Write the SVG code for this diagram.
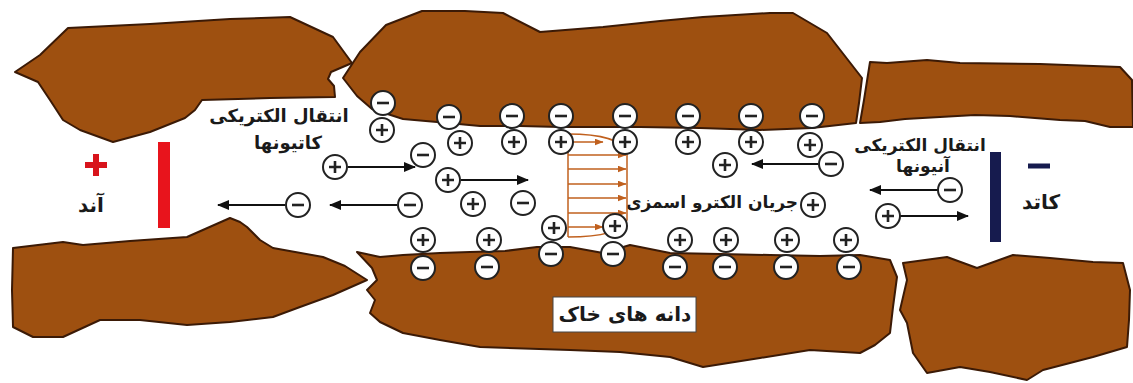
<svg xmlns="http://www.w3.org/2000/svg" xmlns:xlink="http://www.w3.org/1999/xlink" width="1133" height="383" viewBox="0 0 1133 383">
  <style>
    .grain { fill: #9e5010; stroke: #3b1a06; stroke-width: 2; stroke-linejoin: round; }
    .ion-ring { fill: #ffffff; stroke: #222222; stroke-width: 2; }
    .ion-sign { stroke: #222222; stroke-width: 2.6; stroke-linecap: butt; }
    .move { stroke: #111111; stroke-width: 2; fill: none; marker-end: url(#head-black); }
    .flow { stroke: #c0601e; stroke-width: 1.5; fill: none; }
    .flow-arrow { stroke: #c0601e; stroke-width: 1.5; fill: none; marker-end: url(#head-flow); }
    .label { font-family: "DejaVu Sans", "Noto Sans", sans-serif; font-weight: bold; fill: #1a1a1a; text-anchor: middle; }
  </style>
  <defs>
    <marker id="head-black" viewBox="0 0 12 10" refX="11" refY="5" markerWidth="12" markerHeight="10" markerUnits="userSpaceOnUse" orient="auto">
      <path d="M0,0 L12,5 L0,10 z" fill="#111111"/>
    </marker>
    <marker id="head-flow" viewBox="0 0 9 7" refX="8.5" refY="3.5" markerWidth="9" markerHeight="7" markerUnits="userSpaceOnUse" orient="auto">
      <path d="M0,0 L9,3.5 L0,7 z" fill="#c0601e"/>
    </marker>
    <g id="cation">
      <circle class="ion-ring" r="12"/>
      <path class="ion-sign" d="M-6,0 H6 M0,-6 V6"/>
    </g>
    <g id="anion">
      <circle class="ion-ring" r="12"/>
      <path class="ion-sign" d="M-6,0 H6"/>
    </g>
  </defs>

  <rect width="1133" height="383" fill="#ffffff"/>

  <!-- soil grains -->
  <g id="grain-top-left">
    <path class="grain" d="M15,72 L40,55 L68,28 L150,24 L230,19 L290,17 L333,37 L352,63 L331,72 L328,79 L334,86 L335,97 L270,98 L202,100 L195,110 L185,118 L150,132 L113,142 L80,130 L63,120 L50,100 L38,82 Z"/>
  </g>
  <g id="grain-top-middle">
    <path class="grain" d="M343,78 L360,52 L386,25 L422,11 L465,11 L503,13 L540,32 L603,27 L660,21 L703,17 L770,13 L793,13 L827,33 L862,78 L859,103 L856,123 L812,128 L760,130 L700,128 L640,127 L600,127 L560,127 L520,126 L480,126 L437,122 L403,119 L372,109 L357,96 Z"/>
  </g>
  <g id="grain-top-right">
    <path class="grain" d="M870,62 L887,63 L927,60 L960,63 L1040,64 L1120,67 L1132,80 L1133,127 L1110,127 L1085,121 L1060,120 L1010,116 L975,115 L940,117 L905,119 L880,122 L860,123 L864,100 Z"/>
  </g>
  <g id="grain-bottom-left">
    <path class="grain" d="M13,248 L63,242 L83,245 L130,241 L187,237 L230,218 L240,222 L247,227 L260,240 L273,248 L323,257 L345,266 L367,280 L333,295 L300,307 L273,317 L230,322 L187,325 L140,320 L100,320 L63,337 L33,337 L13,327 L12,290 Z"/>
  </g>
  <g id="grain-bottom-middle">
    <path class="grain" d="M357,252 L380,257 L403,255 L440,253 L470,252 L505,251 L537,247 L570,247 L603,253 L630,245 L670,253 L720,254 L770,255 L820,256 L860,255 L890,260 L897,277 L893,307 L890,333 L875,345 L860,353 L810,350 L760,358 L703,367 L670,357 L620,352 L570,350 L480,347 L440,340 L403,333 L380,322 L370,313 L375,300 L367,290 L377,280 L372,268 Z"/>
  </g>
  <g id="grain-bottom-right">
    <path class="grain" d="M903,263 L947,257 L977,268 L1013,255 L1050,258 L1093,262 L1123,263 L1130,290 L1129,320 L1127,347 L1093,357 L1043,370 L1027,380 L990,372 L960,367 L927,373 L913,353 L907,323 L900,310 L907,280 Z"/>
  </g>

  <!-- electrodes -->
  <g id="anode">
    <rect x="158" y="142" width="12" height="86" fill="#e8141c"/>
    <path d="M85,165 H107 M96,154 V176" stroke="#d8141c" stroke-width="6"/>
    <text class="label" x="91" y="212" font-size="20">آند</text>
  </g>
  <g id="cathode">
    <rect x="990" y="152" width="11" height="90" fill="#161b4e"/>
    <path d="M1028,166 H1050" stroke="#161b4e" stroke-width="5"/>
    <text class="label" x="1041" y="209" font-size="20">کاتد</text>
  </g>

  <!-- labels -->
  <g id="label-cation-migration">
    <text class="label" x="279" y="122" font-size="18">انتقال الکتریکی</text>
    <text class="label" x="288" y="149" font-size="18">کاتیونها</text>
  </g>
  <g id="label-anion-migration">
    <text class="label" x="920" y="151" font-size="17">انتقال الکتریکی</text>
    <text class="label" x="923" y="172" font-size="17">آنیونها</text>
  </g>
  <g id="label-electroosmosis">
    <text class="label" x="712" y="208" font-size="17">جریان الکترو اسمزی</text>
  </g>
  <g id="label-soil-grains">
    <rect x="553" y="297" width="143" height="35" fill="#ffffff" stroke="#444444" stroke-width="1"/>
    <text class="label" x="625" y="321" font-size="20">دانه های خاک</text>
  </g>

  <!-- connectors: ion migration and electro-osmotic flow profile -->
  <g id="connectors">
    <line class="move" x1="348" y1="167" x2="415" y2="167"/>
    <line class="move" x1="461" y1="180" x2="528" y2="180"/>
    <line class="move" x1="397" y1="205" x2="330" y2="205"/>
    <line class="move" x1="285" y1="205" x2="218" y2="205"/>
    <line class="move" x1="818" y1="164" x2="752" y2="164"/>
    <line class="move" x1="938" y1="190" x2="870" y2="190"/>
    <line class="move" x1="900" y1="216" x2="968" y2="216"/>

    <path class="flow" d="M568,134 V237"/>
    <path class="flow" d="M568,134 C600,134 622,140 627,152 V220 C622,232 600,237 568,237"/>
    <line class="flow-arrow" x1="568" y1="142" x2="603" y2="142"/>
    <line class="flow-arrow" x1="568" y1="155" x2="626" y2="155"/>
    <line class="flow-arrow" x1="568" y1="169" x2="626" y2="169"/>
    <line class="flow-arrow" x1="568" y1="184" x2="626" y2="184"/>
    <line class="flow-arrow" x1="568" y1="198" x2="626" y2="198"/>
    <line class="flow-arrow" x1="568" y1="213" x2="626" y2="213"/>
    <line class="flow-arrow" x1="568" y1="227" x2="603" y2="227"/>
  </g>

  <!-- ions -->
  <g id="ions-top-anions">
    <use id="a-t1" href="#anion" x="383" y="103"/>
    <use id="a-t2" href="#anion" x="449" y="117"/>
    <use id="a-t3" href="#anion" x="512" y="116"/>
    <use id="a-t4" href="#anion" x="561" y="116"/>
    <use id="a-t5" href="#anion" x="625" y="116"/>
    <use id="a-t6" href="#anion" x="688" y="116"/>
    <use id="a-t7" href="#anion" x="751" y="116"/>
    <use id="a-t8" href="#anion" x="812" y="116"/>
  </g>
  <g id="ions-top-cations">
    <use id="c-t1" href="#cation" x="382" y="130"/>
    <use id="c-t2" href="#cation" x="460" y="143"/>
    <use id="c-t3" href="#cation" x="514" y="142"/>
    <use id="c-t4" href="#cation" x="561" y="142"/>
    <use id="c-t5" href="#cation" x="625" y="142"/>
    <use id="c-t6" href="#cation" x="688" y="142"/>
    <use id="c-t7" href="#cation" x="751" y="142"/>
    <use id="c-t8" href="#cation" x="810" y="145"/>
  </g>
  <g id="ions-free">
    <use id="a-m1" href="#anion" x="423" y="155"/>
    <use id="c-m1" href="#cation" x="335" y="167"/>
    <use id="c-m2" href="#cation" x="448" y="180"/>
    <use id="a-m2" href="#anion" x="410" y="205"/>
    <use id="a-m3" href="#anion" x="298" y="205"/>
    <use id="c-m3" href="#cation" x="473" y="204"/>
    <use id="a-m4" href="#anion" x="523" y="203"/>
    <use id="c-m4" href="#cation" x="725" y="165"/>
    <use id="a-m5" href="#anion" x="831" y="164"/>
    <use id="c-m5" href="#cation" x="813" y="205"/>
    <use id="a-m6" href="#anion" x="950" y="190"/>
    <use id="c-m6" href="#cation" x="888" y="216"/>
  </g>
  <g id="ions-bottom-cations">
    <use id="c-b1" href="#cation" x="423" y="240"/>
    <use id="c-b2" href="#cation" x="489" y="240"/>
    <use id="c-b3" href="#cation" x="554" y="228"/>
    <use id="c-b4" href="#cation" x="615" y="226"/>
    <use id="c-b5" href="#cation" x="680" y="240"/>
    <use id="c-b6" href="#cation" x="726" y="240"/>
    <use id="c-b7" href="#cation" x="787" y="240"/>
    <use id="c-b8" href="#cation" x="846" y="240"/>
  </g>
  <g id="ions-bottom-anions">
    <use id="a-b1" href="#anion" x="423" y="268"/>
    <use id="a-b2" href="#anion" x="487" y="267"/>
    <use id="a-b3" href="#anion" x="551" y="254"/>
    <use id="a-b4" href="#anion" x="613" y="254"/>
    <use id="a-b5" href="#anion" x="675" y="267"/>
    <use id="a-b6" href="#anion" x="725" y="267"/>
    <use id="a-b7" href="#anion" x="786" y="267"/>
    <use id="a-b8" href="#anion" x="849" y="267"/>
  </g>
</svg>
